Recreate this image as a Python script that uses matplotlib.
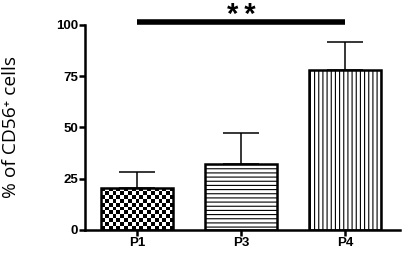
import matplotlib
matplotlib.use("Agg")
import matplotlib.pyplot as plt
import numpy as np

groups = ["P1", "P3", "P4"]
means = [20.5, 32.2, 78.0]
errors = [7.8, 15.1, 13.9]
hatches = [None, "----", "||||"]
yticks = [0, 25, 50, 75, 100]
sig_label = "*\u2009*"

plt.rcParams["hatch.linewidth"] = 0.8

fig = plt.figure(figsize=(4.03, 2.56), dpi=100)
ax = fig.add_axes([0.211, 0.1016, 0.782, 0.8008])

x = np.arange(len(groups))
bars = ax.bar(x, means, width=0.7, color="white", edgecolor="black",
              linewidth=1.8, zorder=2)
for bar, h in zip(bars, hatches):
    if h:
        bar.set_hatch(h)
ax.errorbar(x, means, yerr=[np.zeros(len(means)), errors], fmt="none",
            ecolor="black", elinewidth=1.1, capsize=13, capthick=1.1, zorder=1)

# checkerboard fill for the first bar, drawn under a see-through face
b0 = bars[0]
b0.set_facecolor("none")
cells_x, cells_y = 19, 11
checker = (np.indices((cells_y, cells_x)).sum(axis=0) % 2).astype(float)
img = ax.imshow(checker, cmap="gray", interpolation="nearest", aspect="auto",
                extent=[b0.get_x(), b0.get_x() + b0.get_width(), 0, b0.get_height()],
                zorder=1.5)
img.set_clip_path(b0)

ax.set_xlim(-0.5, 2.53)
ax.set_ylim(0, 100)
ax.set_yticks(yticks)
ax.set_xticks(x, labels=groups)
for lab in ax.get_xticklabels() + ax.get_yticklabels():
    lab.set_fontweight("bold")
    lab.set_fontfamily("Liberation Sans")
    lab.set_fontsize(9.5)
ax.tick_params(axis="both", direction="out", length=4, width=1.8, pad=1)
ax.spines["top"].set_visible(False)
ax.spines["right"].set_visible(False)
ax.spines["left"].set_linewidth(1.8)
ax.spines["bottom"].set_linewidth(1.8)

ax.set_ylabel("% of CD56⁺ cells", fontsize=13.8, family=["Open Sans", "DejaVu Sans"])
ax.yaxis.set_label_coords(-0.205, 0.5)

ax.plot([0, 2], [101.5, 101.5], color="black", linewidth=4, clip_on=False,
        solid_capstyle="butt")
ax.text(1.0, 101.0, sig_label, ha="center", va="baseline", fontsize=21,
        fontweight="bold", family=["Liberation Sans", "DejaVu Sans"])

fig.savefig("out.png", dpi=100)
